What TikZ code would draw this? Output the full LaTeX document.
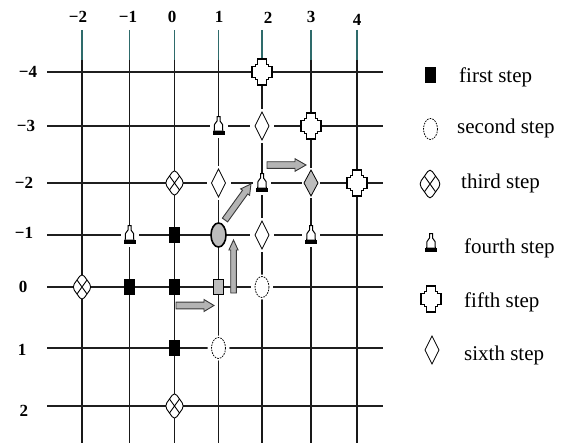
\documentclass[tikz,border=0pt]{standalone}
\usepackage{fontspec}
\setmainfont{Liberation Serif}
\definecolor{tealtop}{HTML}{2E6B6B}
\definecolor{arrfill}{HTML}{B4B4B4}
\definecolor{arrline}{HTML}{383838}
\definecolor{mgray}{HTML}{BDBDBD}
\tikzset{
  vtop/.style={line width=1.1pt, draw=tealtop},
  vline/.style={line width=1.1pt, draw=black!90},
  hline/.style={line width=1.3pt, draw=black!88},
  axlab/.style={font=\fontsize{17}{17}\selectfont\bfseries, inner sep=0pt},
  legtext/.style={font=\fontsize{21}{24}\selectfont, inner sep=0pt, anchor=base west},
  pics/blksq/.style={code={\fill[black] (-5.5,-8) rectangle (5.5,8);}},
  pics/grsq/.style={code={\draw[fill=mgray, line width=0.8pt] (-5,-7.5) rectangle (5,7.5);}},
  pics/dotell/.style={code={
    \fill[white] (0,0) ellipse (11 and 12.5);
    \draw[line width=0.8pt, dash pattern=on 1.6pt off 1.1pt] (0,0) ellipse (7 and 10.5);}},
  pics/grell/.style={code={\draw[fill=mgray, line width=1.6pt] (0,0) ellipse (7.5 and 12);}},
  pics/thirdm/.style={code={
    \draw[fill=white, line width=0.9pt, rounded corners=4pt] (0,-14) -- (10,0) -- (0,14) -- (-10,0) -- cycle;
    \draw[line width=0.9pt] (-5,-7) -- (5,7) (5,-7) -- (-5,7);}},
  pics/diam/.style={code={
    \fill[white] (-12,-17) rectangle (12,17);
    \draw[fill=white, line width=0.8pt] (0,-14) -- (7,0) -- (0,14) -- (-7,0) -- cycle;}},
  pics/grdiam/.style={code={
    \fill[white] (-9,-15) rectangle (9,15);
    \draw[fill=mgray, line width=0.8pt] (0,-13) -- (7,0) -- (0,13) -- (-7,0) -- cycle;}},
  pics/trim/.style={code={
    \fill[white] (-9,-8) rectangle (9,12);
    \draw[fill=white, line width=1pt] (-1.5,-9.5) -- (1.5,-9.5) -- (1.5,-5) -- (4,-1.5) -- (4.3,5) -- (-4.3,5) -- (-4,-1.5) -- (-1.5,-5) -- cycle;
    \fill[black] (-6,4.5) rectangle (6,9);}},
  pics/crossm/.style={code={
    \draw[fill=white, line width=1.2pt] (-4.5,-13) -- (4.5,-13) -- (4.5,-7.5) -- (6.5,-7.5) -- (6.5,-5.5) -- (10,-5.5) -- (10,5.5) -- (6.5,5.5) -- (6.5,7.5) -- (4.5,7.5) -- (4.5,13) -- (-4.5,13) -- (-4.5,7.5) -- (-6.5,7.5) -- (-6.5,5.5) -- (-10,5.5) -- (-10,-5.5) -- (-6.5,-5.5) -- (-6.5,-7.5) -- (-4.5,-7.5) -- cycle;}},
  pics/blockarr/.style n args={4}{code={
    \draw[fill=arrfill, draw=arrline, line width=0.9pt] (0,-#2) -- ({#1-#4},-#2) -- ({#1-#4},-#3) -- (#1,0) -- ({#1-#4},#3) -- ({#1-#4},#2) -- (0,#2) -- cycle;}}
}
\begin{document}
\begin{tikzpicture}[x=1pt,y=-1pt]
\useasboundingbox (0,0) rectangle (570,444);
% grid
\foreach \x in {82,129.5,174.5,218.5,262,311,357}{
  \draw[vtop] (\x,30) -- (\x,60);
  \draw[vline] (\x,60) -- (\x,443);
}
\foreach \y in {72,126,183,235,287,348,406}
  \draw[hline] (47,\y) -- (383,\y);
% grid points
\foreach \c/\x in {-2/82,-1/129.5,0/174.5,1/218.5,2/262,3/311,4/357}
  \foreach \r/\y in {-4/72,-3/126,-2/183,-1/235,0/287,1/348,2/406}
    \coordinate (g\c r\r) at (\x,\y);
% column labels
\node[axlab] (cm2) at (78,17) {−2};
\node[axlab] (cm1) at (128,17) {−1};
\node[axlab] (c0) at (172,17) {0};
\node[axlab] (c1) at (219,17) {1};
\node[axlab] (c2) at (268,18) {2};
\node[axlab] (c3) at (311,17) {3};
\node[axlab] (c4) at (357,20) {4};
% row labels
\node[axlab] (rm4) at (28,72) {−4};
\node[axlab] (rm3) at (26,126) {−3};
\node[axlab] (rm2) at (24,183) {−2};
\node[axlab] (rm1) at (24,233) {−1};
\node[axlab] (r0) at (23,287) {0};
\node[axlab] (r1) at (22,350) {1};
\node[axlab] (r2) at (24,411) {2};
% arrows
\coordinate (a1) at (176,305.5);
\coordinate (a2) at (233.5,293);
\coordinate (a3) at (225,220);
\coordinate (a4) at (267,165);
\pic at (a1) {blockarr={38}{3.4}{6}{10}};
\pic[rotate=90] at (a2) {blockarr={53}{2.8}{4.6}{10}};
\pic[rotate=54.2] at (a3) {blockarr={44.4}{3.2}{5.5}{10}};
\pic at (a4) {blockarr={39}{3.3}{6.3}{11}};
% markers
\pic at (g2r-4) {crossm};
\pic at (g1r-3) {trim};
\pic at (g2r-3) {diam};
\pic at (g3r-3) {crossm};
\pic at (g0r-2) {thirdm};
\pic at (g1r-2) {diam};
\pic at (g2r-2) {trim};
\pic at (g3r-2) {grdiam};
\pic at (g4r-2) {crossm};
\pic at (g-1r-1) {trim};
\pic at (g0r-1) {blksq};
\pic at (g1r-1) {grell};
\pic at (g2r-1) {diam};
\pic at (g3r-1) {trim};
\pic at (g-2r0) {thirdm};
\pic at (g-1r0) {blksq};
\pic at (g0r0) {blksq};
\pic at (g1r0) {grsq};
\pic at (g2r0) {dotell};
\pic at (g0r1) {blksq};
\pic at (g1r1) {dotell};
\pic at (g0r2) {thirdm};
% legend
\coordinate (l1) at (430,75);
\coordinate (l2) at (430.5,129);
\coordinate (l3) at (430,184);
\coordinate (l4) at (431,243);
\coordinate (l5) at (431,299);
\coordinate (l6) at (432,350);
\pic at (l1) {blksq};
\pic at (l2) {dotell};
\pic[scale=1.12] at (l3) {thirdm};
\pic at (l4) {trim};
\pic at (l5) {crossm};
\pic at (l6) {diam};
\node[legtext] (t1) at (459,82) {first step};
\node[legtext] (t2) at (457,133) {second step};
\node[legtext] (t3) at (461,188) {third step};
\node[legtext] (t4) at (464,253) {fourth step};
\node[legtext] (t5) at (464,307) {fifth step};
\node[legtext] (t6) at (464,360) {sixth step};
\end{tikzpicture}
\end{document}
